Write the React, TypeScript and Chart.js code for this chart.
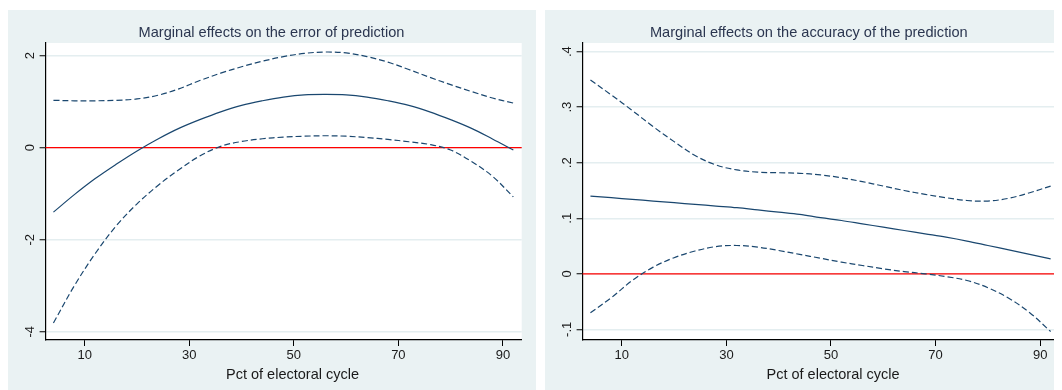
import React, { useEffect, useRef } from "react";
import { Chart, registerables } from "chart.js";

Chart.register(...registerables);

// ---------- data ----------
const xVals = [4, 8, 12, 16, 20, 24, 28, 32, 36, 40, 44, 48, 52, 56, 60, 64, 68, 72, 76, 80, 84, 88, 92];

const errFit = [-1.4, -1.02, -0.67, -0.36, -0.07, 0.19, 0.42, 0.61, 0.78, 0.92, 1.02, 1.1, 1.15, 1.16, 1.15, 1.1, 1.02, 0.92, 0.78, 0.61, 0.42, 0.19, -0.05];
const errUpper = [1.03, 1.02, 1.02, 1.03, 1.06, 1.14, 1.28, 1.46, 1.62, 1.76, 1.88, 1.98, 2.05, 2.08, 2.06, 1.98, 1.86, 1.7, 1.53, 1.37, 1.22, 1.08, 0.97];
const errLower = [-3.81, -3.0, -2.3, -1.7, -1.22, -0.82, -0.48, -0.18, 0.03, 0.135, 0.195, 0.23, 0.25, 0.26, 0.25, 0.22, 0.18, 0.13, 0.07, -0.05, -0.3, -0.62, -1.07];

const accFit = [0.14, 0.137, 0.134, 0.131, 0.128, 0.125, 0.122, 0.119, 0.115, 0.111, 0.107, 0.101, 0.096, 0.09, 0.084, 0.078, 0.072, 0.066, 0.059, 0.051, 0.043, 0.035, 0.027];
const accUpper = [0.349, 0.322, 0.294, 0.265, 0.238, 0.213, 0.196, 0.187, 0.183, 0.182, 0.181, 0.178, 0.173, 0.166, 0.158, 0.15, 0.143, 0.137, 0.132, 0.131, 0.136, 0.146, 0.158];
const accLower = [-0.07, -0.043, -0.012, 0.012, 0.029, 0.041, 0.049, 0.051, 0.048, 0.042, 0.035, 0.028, 0.021, 0.015, 0.009, 0.004, 0.0, -0.005, -0.012, -0.025, -0.044, -0.07, -0.104];

const xTicks = [10, 30, 50, 70, 90];
const errYTicks = [-4, -2, 0, 2];
const errYLabels = ["-4", "-2", "0", "2"];
const accYTicks = [-0.1, 0, 0.1, 0.2, 0.3, 0.4];
const accYLabels = ["-.1", "0", ".1", ".2", ".3", ".4"];

const errTitle = "Marginal effects on the error of prediction";
const accTitle = "Marginal effects on the accuracy of the prediction";
const xTitle = "Pct of electoral cycle";

// ---------- styling ----------
const FONT = '"Liberation Sans", Arial, sans-serif';
const NAVY = "#1a476f";
const BG = "#eaf2f3";

type PanelCfg = {
  width: number;
  height: number;
  padRight: number;
  title: string;
  titleX: number;
  xTitleX: number;
  yMin: number;
  yMax: number;
  yTicks: number[];
  yLabels: string[];
  fit: number[];
  upper: number[];
  lower: number[];
};

function pts(ys: number[]) {
  return xVals.map((x, i) => ({ x, y: ys[i] }));
}

function Panel({ cfg }: { cfg: PanelCfg }) {
  const ref = useRef<HTMLCanvasElement | null>(null);
  useEffect(() => {
    if (!ref.current) return;
    const decor = {
      id: "decor",
      beforeDraw(chart: any) {
        const { ctx, chartArea } = chart;
        ctx.save();
        ctx.fillStyle = BG;
        ctx.fillRect(0, 0, chart.width, chart.height);
        ctx.fillStyle = "#ffffff";
        ctx.fillRect(chartArea.left, chartArea.top, chartArea.right - chartArea.left, chartArea.bottom - chartArea.top);
        ctx.restore();
      },
      beforeDatasetsDraw(chart: any) {
        const { ctx, chartArea, scales } = chart;
        const y0 = scales.y.getPixelForValue(0);
        ctx.save();
        ctx.strokeStyle = "#ff0000";
        ctx.lineWidth = 1.3;
        ctx.beginPath();
        ctx.moveTo(chartArea.left, y0);
        ctx.lineTo(chartArea.right, y0);
        ctx.stroke();
        ctx.restore();
      },
      afterDraw(chart: any) {
        const { ctx, scales } = chart;
        ctx.save();
        ctx.fillStyle = "#2b3650";
        ctx.font = `14.6px ${FONT}`;
        ctx.textAlign = "center";
        ctx.textBaseline = "middle";
        ctx.fillText(cfg.title, cfg.titleX, 23);
        ctx.fillStyle = "#1a1a1a";
        ctx.font = `14.5px ${FONT}`;
        ctx.fillText(xTitle, cfg.xTitleX, 365);
        // rotated y tick labels
        ctx.font = `13px ${FONT}`;
        cfg.yTicks.forEach((v, i) => {
          const py = scales.y.getPixelForValue(v);
          ctx.save();
          ctx.translate(22, py);
          ctx.rotate(-Math.PI / 2);
          ctx.textAlign = "center";
          ctx.textBaseline = "middle";
          ctx.fillText(cfg.yLabels[i], 0, 0);
          ctx.restore();
        });
        ctx.restore();
      },
    };

    const lineBase = {
      borderColor: NAVY,
      borderWidth: 1.2,
      pointRadius: 0,
      tension: 0.35,
      fill: false,
    };

    const chart = new Chart(ref.current, {
      type: "line",
      data: {
        datasets: [
          { ...lineBase, data: pts(cfg.upper), borderDash: [6, 3] },
          { ...lineBase, data: pts(cfg.fit) },
          { ...lineBase, data: pts(cfg.lower), borderDash: [6, 3] },
        ],
      },
      options: {
        animation: false,
        responsive: false,
        devicePixelRatio: 1,
        layout: { padding: { left: 0, top: 33, right: cfg.padRight, bottom: 0 } },
        plugins: { legend: { display: false }, tooltip: { enabled: false }, title: { display: false } },
        scales: {
          x: {
            type: "linear",
            min: 2.5,
            max: 93.6,
            afterBuildTicks: (s: any) => {
              s.ticks = xTicks.map((v) => ({ value: v }));
            },
            afterFit: (s: any) => {
              s.height = 50;
            },
            grid: { drawOnChartArea: false, drawTicks: true, tickLength: 6, tickColor: "#000", tickWidth: 1 },
            border: { display: true, color: "#000", width: 1.2 },
            ticks: {
              color: "#1a1a1a",
              font: { family: FONT, size: 13 },
              padding: 2,
              maxRotation: 0,
              autoSkip: false,
              callback: (v: any) => String(v),
            },
          },
          y: {
            type: "linear",
            min: cfg.yMin,
            max: cfg.yMax,
            afterBuildTicks: (s: any) => {
              s.ticks = cfg.yTicks.map((v) => ({ value: v }));
            },
            afterFit: (s: any) => {
              s.width = 37.6;
            },
            grid: { color: "#e4eef0", lineWidth: 1.5, drawTicks: true, tickLength: 6, tickColor: "#000", tickWidth: 1 },
            border: { display: true, color: "#000", width: 1.2 },
            ticks: { display: false },
          },
        },
      },
      plugins: [decor],
    } as any);
    return () => chart.destroy();
  }, [cfg]);
  return <canvas ref={ref} width={cfg.width} height={cfg.height} style={{ display: "block" }} />;
}

const leftCfg: PanelCfg = {
  width: 528,
  height: 380,
  padRight: 14.3,
  title: errTitle,
  titleX: 263.5,
  xTitleX: 284.5,
  yMin: -4.18,
  yMax: 2.276,
  yTicks: errYTicks,
  yLabels: errYLabels,
  fit: errFit,
  upper: errUpper,
  lower: errLower,
};

const rightCfg: PanelCfg = {
  width: 515,
  height: 380,
  padRight: 1,
  title: accTitle,
  titleX: 263.8,
  xTitleX: 288,
  yMin: -0.1192,
  yMax: 0.4156,
  yTicks: accYTicks,
  yLabels: accYLabels,
  fit: accFit,
  upper: accUpper,
  lower: accLower,
};

export default function App() {
  return (
    <div style={{ position: "relative", width: 1054, height: 382 }}>
      <div style={{ position: "absolute", left: 0, top: 2 }}>
        <Panel cfg={leftCfg} />
      </div>
      <div style={{ position: "absolute", left: 537, top: 2 }}>
        <Panel cfg={rightCfg} />
      </div>
    </div>
  );
}
